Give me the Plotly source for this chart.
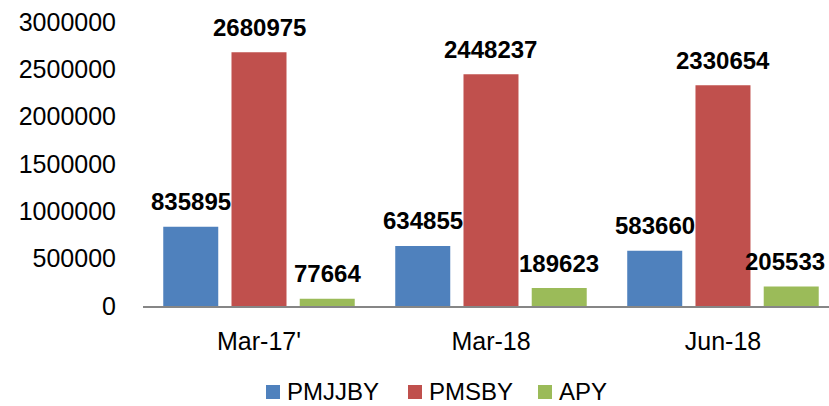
import plotly.graph_objects as go

categories = ["Mar-17'", "Mar-18", "Jun-18"]
pmjjby = [835895, 634855, 583660]
pmsby = [2680975, 2448237, 2330654]
apy = [77664, 189623, 205533]

series = [
    ("PMJJBY", pmjjby, "#4F81BD"),
    ("PMSBY", pmsby, "#C0504D"),
    ("APY", apy, "#9BBB59"),
]

FONT = "Liberation Sans, Arial, sans-serif"
W, H = 829, 406
ML, MR, MT, MB = 143, 0, 22, 100
PW, PH = W - ML - MR, H - MT - MB
SLOT_PX = 68  # horizontal distance between neighbouring bars of a group


def px_to_paper(px, py):
    return (px - ML) / PW, (H - MB - py) / PH


fig = go.Figure()
for name, vals, color in series:
    fig.add_trace(go.Bar(
        x=categories, y=vals, name=name,
        marker=dict(color=color, line=dict(width=0)),
        offsetgroup=name, showlegend=False,
    ))

# value labels above each bar
n = len(series)
for i, (name, vals, color) in enumerate(series):
    for j, v in enumerate(vals):
        shift = (i - (n - 1) / 2) * SLOT_PX
        if i == n - 1 and j == len(vals) - 1:
            shift -= 6  # keep the right-most label inside the page
        fig.add_annotation(
            x=j, y=v, xref="x", yref="y",
            text=f"<b>{v}</b>", showarrow=False,
            xshift=shift, yshift=25, yanchor="middle",
            font=dict(family=FONT, size=24, color="black"),
        )

# legend row below the axis: coloured square + series name
legend_x = [266, 408, 538]
legend_y = 391
sq = 14
for (name, vals, color), lx in zip(series, legend_x):
    x0, y0 = px_to_paper(lx, legend_y + 1 + sq / 2)
    x1, y1 = px_to_paper(lx + sq, legend_y + 1 - sq / 2)
    fig.add_shape(type="rect", xref="paper", yref="paper",
                  x0=x0, y0=y0, x1=x1, y1=y1,
                  fillcolor=color, line=dict(width=0))
    tx, ty = px_to_paper(lx + sq + 6, legend_y)
    fig.add_annotation(x=tx, y=ty, xref="paper", yref="paper",
                       text=name, showarrow=False, borderpad=0,
                       xanchor="left", yanchor="middle",
                       font=dict(family=FONT, size=24, color="black"))

fig.update_layout(
    width=W, height=H,
    margin=dict(l=ML, r=MR, t=MT, b=MB, autoexpand=False),
    paper_bgcolor="white", plot_bgcolor="white",
    barmode="group", bargap=0.1175, bargroupgap=0.194,
    font=dict(family=FONT, size=25, color="black"),
    showlegend=False,
    xaxis=dict(
        range=[-0.5, 2.457],
        showgrid=False, showline=True, linecolor="#868686", linewidth=2,
        ticks="", ticklabelstandoff=12, automargin=False,
        tickfont=dict(family=FONT, size=25),
    ),
    yaxis=dict(
        range=[0, 3000000], dtick=500000, tickformat="d",
        showgrid=False, showline=False, zeroline=False,
        ticks="", ticklabelstandoff=26, automargin=False,
        tickfont=dict(family=FONT, size=25),
    ),
)

fig.write_html("out.html")
